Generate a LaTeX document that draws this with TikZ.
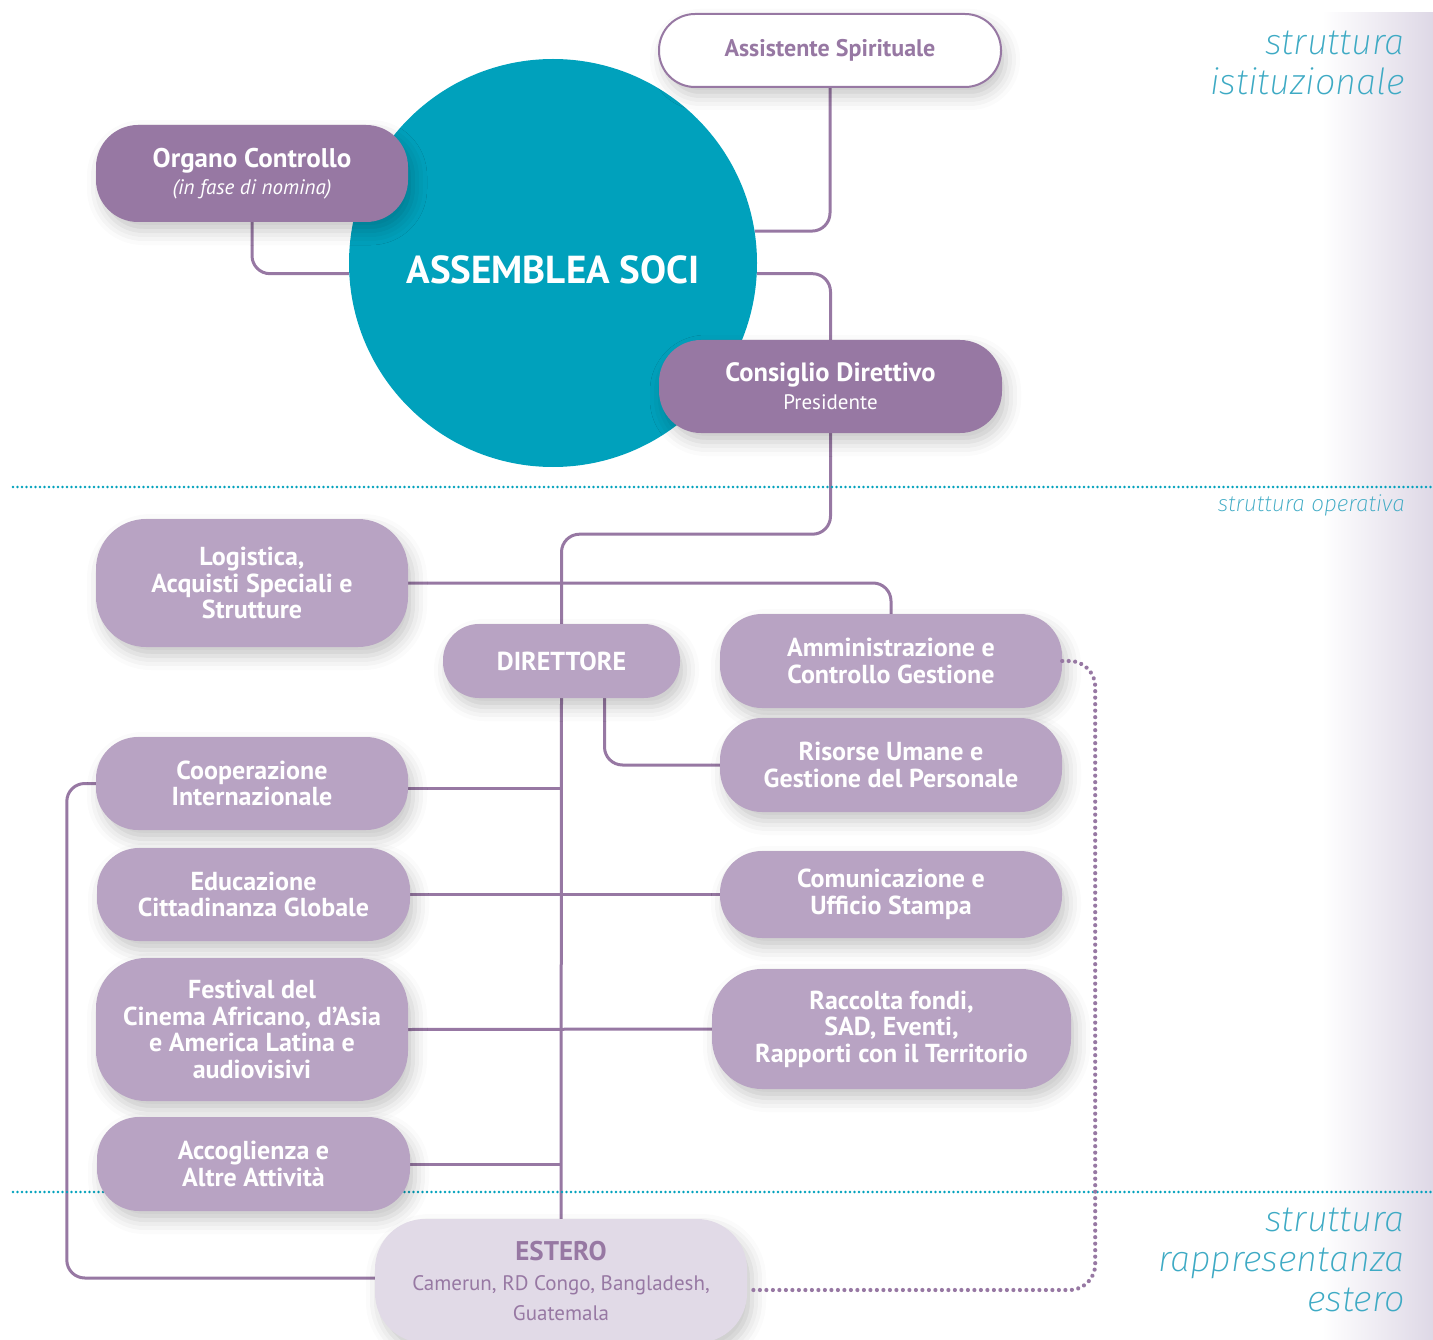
\documentclass[tikz,border=0pt]{standalone}
\usepackage{fontspec}
\setmainfont{PT Sans}
\newfontfamily\thinfont{Fira Sans ExtraLight Italic}
\usetikzlibrary{backgrounds}
\usetikzlibrary{shadows.blur}
\usetikzlibrary{decorations.markings}
\definecolor{sea}{RGB}{0,161,188}
\definecolor{seatext}{RGB}{62,170,196}
\definecolor{plum}{RGB}{151,120,163}
\definecolor{lilac}{RGB}{184,163,195}
\definecolor{mist}{RGB}{225,218,231}
\definecolor{band}{RGB}{222,216,230}
\tikzstyle{unit} = [rectangle, rounded corners=42pt, inner sep=0pt, align=center, fill=lilac, text=white,
  font=\bfseries\fontsize{26}{26.5}\selectfont,
  blur shadow={shadow xshift=5pt, shadow yshift=-9pt, shadow blur radius=14pt, shadow opacity=22}]
\tikzstyle{organ} = [unit, fill=plum]
\tikzstyle{link} = [draw=plum, line width=3pt, rounded corners=18pt]
\tikzstyle{dotlink} = [rounded corners=26pt, decoration={markings,
  mark=between positions 0 and 1 step 6.5pt with {\fill[plum] (0,0) circle [radius=2.1pt];}}, postaction={decorate}]
\tikzstyle{divider} = [decoration={markings,
  mark=between positions 0 and 1 step 4.5pt with {\fill[sea] (0,0) circle [radius=1.3pt];}}, postaction={decorate}]
\tikzstyle{areaname} = [anchor=east, align=right, inner sep=0pt, text=seatext]

\begin{document}
\begin{tikzpicture}[x=1pt, y=-1pt]
  \path[use as bounding box, clip] (0,0) rectangle (1433,1340);
  % Side band
  \shade[left color=white, right color=band] (1322,13) rectangle (1433,1340);
  % Dividers
  \path[divider] (13,487) -- (1433,487);
  \path[divider] (13,1192) -- (1433,1192);
  % Institutional part
  \node[circle, fill=sea, minimum size=408pt, inner sep=0pt, text=white, text height=42pt,
    font=\bfseries\fontsize{39}{42}\selectfont] (assemblea) at (553,263) {ASSEMBLEA SOCI};
  \node[unit, rounded corners=36pt, fill=white, draw=plum, line width=2pt, text=plum,
    font=\bfseries\fontsize{24}{26}\selectfont, minimum width=342pt, minimum height=73pt] (assist) at (830,50.5) {Assistente Spirituale};
  \node[organ, minimum width=312pt, minimum height=97pt, font=\bfseries\fontsize{27}{27}\selectfont] (organo) at (252,173.5)
    {Organo Controllo\\\mdseries\itshape\fontsize{21}{27}\selectfont (in fase di nomina)};
  \node[organ, minimum width=343pt, minimum height=93pt, font=\bfseries\fontsize{26.5}{28}\selectfont] (consiglio) at (830.5,386.5)
    {Consiglio Direttivo\\\mdseries\fontsize{21}{28}\selectfont Presidente};
  % Operative part
  \node[unit, minimum width=237pt, minimum height=74pt, rounded corners=36pt] (direttore) at (561.5,661) {DIRETTORE};
  \node[unit, minimum width=312pt, minimum height=128pt, rounded corners=50pt] (logistica) at (252,583)
    {Logistica,\\Acquisti Speciali e\\Strutture};
  \node[unit, minimum width=342pt, minimum height=94pt] (ammin) at (891,661) {Amministrazione e\\Controllo Gestione};
  \node[unit, minimum width=342pt, minimum height=94pt] (risorse) at (891,765) {Risorse Umane e\\Gestione del Personale};
  \node[unit, minimum width=312pt, minimum height=93pt] (cooper) at (252,783.5) {Cooperazione\\Internazionale};
  \node[unit, minimum width=313pt, minimum height=93pt] (educ) at (253.5,894.5) {Educazione\\Cittadinanza Globale};
  \node[unit, minimum width=342pt, minimum height=87pt] (comun) at (891,894.5) {Comunicazione e\\Ufficio Stampa};
  \node[unit, minimum width=312pt, minimum height=143pt, rounded corners=50pt] (festival) at (252,1029.5)
    {Festival del\\Cinema Africano, d’Asia\\e America Latina e\\audiovisivi};
  \node[unit, minimum width=359pt, minimum height=120pt, rounded corners=50pt] (raccolta) at (891.5,1029)
    {Raccolta fondi,\\SAD, Eventi,\\Rapporti con il Territorio};
  \node[unit, minimum width=313pt, minimum height=94pt] (accogl) at (253.5,1164) {Accoglienza e\\Altre Attività};
  % Foreign part
  \node[unit, fill=mist, text=plum, minimum width=372pt, minimum height=124pt, rounded corners=50pt,
    font=\bfseries\fontsize{27}{30}\selectfont] (estero) at (561,1281)
    {ESTERO\\\mdseries\fontsize{21}{30}\selectfont Camerun, RD Congo, Bangladesh,\\\mdseries\fontsize{21}{30}\selectfont Guatemala};
  % Area names
  \node[areaname, font=\thinfont\fontsize{36}{40}\selectfont] (istit) at (1405,63) {struttura\\istituzionale};
  \node[areaname, font=\thinfont\fontsize{22.5}{26}\selectfont] (operat) at (1405,505) {struttura operativa};
  \node[areaname, font=\thinfont\fontsize{36}{40}\selectfont] (rappr) at (1405,1260) {struttura\\rappresentanza\\estero};
  % Connectors
  \begin{scope}[on background layer]
    \draw[link] (assist.south) |- (assemblea.9);
    \draw[link] (organo.south) |- (assemblea.183);
    \draw[link] (assemblea.-3) -| (consiglio.north);
    \draw[link] (consiglio.south) -- ++(0,101) -| (direttore.north);
    \draw[link] (logistica.east) -| (ammin.north);
    \draw[link] ([xshift=43pt]direttore.south) |- (risorse.west);
    \draw[link] (direttore.south) -- (estero.north);
    \draw[link] ([yshift=-5pt]cooper.east) -- ([yshift=-5pt]cooper.east -| direttore.south);
    \draw[link] (educ.east) -- (comun.west);
    \draw[link] (festival.east) -- (raccolta.west);
    \draw[link] (accogl.east) -- (accogl.east -| direttore.south);
    \draw[link] (cooper.west) -- ++(-29,0) |- ([yshift=3pt]estero.west);
  \end{scope}
  \path[dotlink] (ammin.east) -- ++(33,0) |- ([yshift=-9pt]estero.east);
\end{tikzpicture}
\end{document}
